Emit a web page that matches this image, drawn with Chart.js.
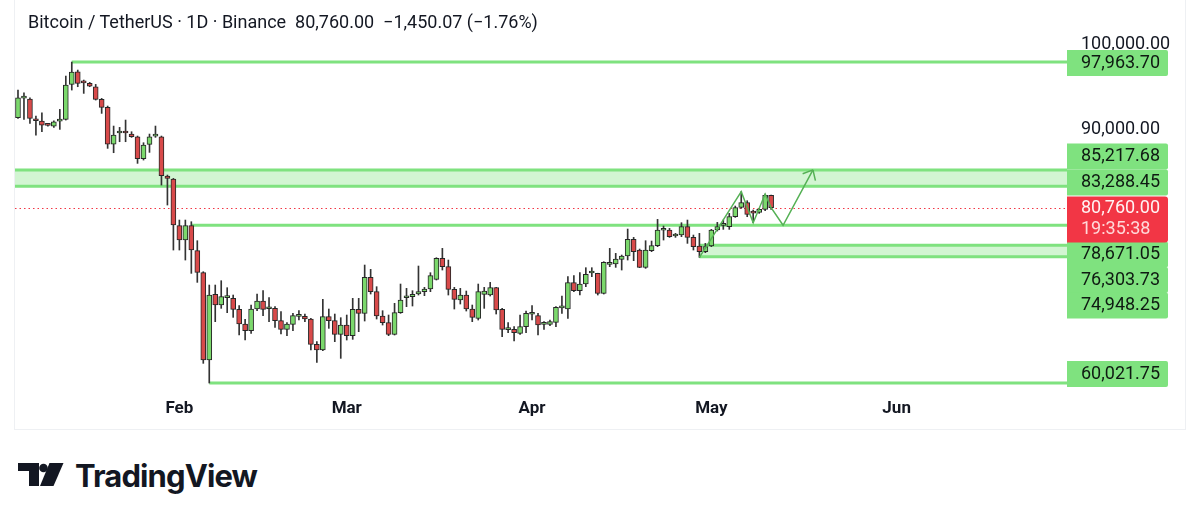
<!DOCTYPE html>
<html>
<head>
<meta charset="utf-8">
<script src="https://cdn.jsdelivr.net/npm/chart.js@4.4.1/dist/chart.umd.min.js"></script>
<style>
  body { margin: 0; background: #fff; width: 1199px; height: 521px; overflow: hidden; position: relative; font-family: Roboto, "Noto Sans", sans-serif; }
  #pane { position: absolute; left: 14px; top: -1px; width: 1172px; height: 431px; border: 1px solid #eef0f3; border-top: none; box-sizing: border-box; }
  #wrap { position: absolute; left: 0; top: 0; width: 1199px; height: 430px; }
  #title { position: absolute; left: 28px; top: 12px; font-size: 18px; line-height: 20px; color: #131722; white-space: pre; }
  #logo { position: absolute; left: 18px; top: 460px; height: 31px; }
  #logo span { position: absolute; left: 57px; top: 0; font-family: Inter, sans-serif; font-weight: 700; font-size: 31px; line-height: 31px; color: #131722; letter-spacing: -0.9px; }
</style>
</head>
<body>
<div id="pane"></div>
<div id="wrap"><canvas id="chart" width="1199" height="430"></canvas></div>
<div id="title">Bitcoin / TetherUS · 1D · Binance  80,760.00  −1,450.07 (−1.76%)</div>
<div id="logo">
  <svg width="50" height="26" viewBox="0 0 50 26" style="position:absolute;left:0;top:3px">
    <path d="M0 0H21V23H11V8H0Z" fill="#131722"/>
    <circle cx="25.5" cy="5" r="4.3" fill="#131722"/>
    <path d="M31.5 0H45.5L35.5 23H22Z" fill="#131722"/>
  </svg>
  <span>TradingView</span>
</div>
<script>
// daily candles, Jan 5 -> May 11
const opens = [91384,93700,93590,91187,90990,90500,90399,90990,91187,95324,
  96821,95560,95442,95048,93551,92605,88271,89580,89640,89453,
  89138,86538,88232,89200,89138,84489,84134,78618,76924,78618,
  75663,73063,62740,70502,69241,70120,70029,68729,66995,66207,
  68768,69714,68800,68847,67389,66365,66956,67900,67901,67586,
  64592,63922,67862,67389,65774,66877,65616,68729,68256,72511,
  70817,67941,67153,65774,68335,70100,70226,70541,70817,71132,
  72275,74757,73772,71093,69832,70423,68768,67665,70502,70423,
  71290,68729,66330,66365,65892,66680,68150,67980,66960,66956,
  67192,68900,68768,71881,70935,71723,73030,72984,70620,74050,
  74087,74639,75033,77003,75742,73693,75663,76254,78080,78106,
  77400,77515,78500,77239,76214,75545,76214,78106,78660,78500,
  79682,80785,81337,80200,80194,80549,82210];
const highs = [94654,94339,93748,91581,91975,90596,91029,92369,96309,97964,
  97018,95836,95560,95324,93669,92763,90399,90241,91108,89729,
  89217,88429,89453,90399,89217,84607,84213,79288,79288,79091,
  76845,73181,71605,71605,72117,71290,70423,69162,67547,69241,
  70541,70935,70108,69044,68453,67153,68256,68571,68177,67665,
  64907,69911,68768,68177,67744,68059,70029,70029,73969,73457,
  71408,68571,68059,69438,71723,71211,70935,73851,71329,73063,
  74836,75939,74560,71329,71211,70896,69241,71723,71329,71920,
  71329,68847,67153,66680,68059,68532,69162,68256,67271,67468,
  69044,70305,72590,72708,73063,73654,73654,73000,74363,75939,
  75348,75151,78224,77239,75860,76845,76806,79367,78579,78303,
  77712,78973,79288,77515,77712,76530,78185,79012,79288,80076,
  80943,82637,81573,80470,80667,82361,82243];
const lows = [91305,91187,90714,89335,89729,90399,90241,90005,91108,94654,
  95048,94260,95048,93472,91896,87759,87247,88547,88547,89059,
  85986,86380,87286,89059,83425,81061,75742,75742,74560,72984,
  71920,62346,60022,67271,68847,68335,67783,65695,65104,65892,
  68571,67980,67271,66601,65813,65616,66207,67468,67271,63922,
  62464,63843,66483,64907,62937,65104,65183,66089,67350,70541,
  67586,66877,65616,65695,68256,69044,69123,70423,70344,70817,
  72196,73378,70423,68768,69359,68532,67271,67468,68847,70305,
  68177,65498,65971,64986,65774,65971,67468,65695,66365,66798,
  66680,68256,67665,70817,70423,71408,72590,70423,70541,73772,
  73693,73378,74560,74481,73654,73575,75545,76136,76924,77239,
  77239,77318,76530,75742,74875,75427,76136,77988,78185,78185,
  79603,80667,79682,78973,80076,80391,80549];
const closes = [93748,93760,91305,91029,90517,90478,90911,91200,95245,96782,
  95442,95500,95127,93551,92605,88271,89335,89640,89580,89138,
  86538,88153,89138,89280,84528,84213,78697,76924,78618,75742,
  73102,62740,70423,69241,70226,70180,68729,66995,66207,68768,
  69714,68729,68880,67389,66365,66995,67980,67960,67586,64592,
  63922,67862,67389,65774,66877,65616,68729,68256,72511,70817,
  67941,67153,65774,68335,69832,70180,70502,70817,71132,72708,
  74757,73772,71093,69911,70423,68768,67783,70817,70896,71290,
  68650,66365,66400,65971,66680,68256,68200,66877,67040,67271,
  68965,68950,71881,70935,71723,72866,73100,70620,74284,74150,
  74678,75033,77003,75545,73693,75742,76254,78106,78130,77318,
  77470,78500,77239,76136,75545,76136,78106,78500,78730,79682,
  80746,81337,79958,80110,80549,82210,80760];

const lastPrice = 80760;
const countdown = '19:35:38';
const monthTicks = ['Feb', 'Mar', 'Apr', 'May', 'Jun'];
const priceTicks = [70000, 80000, 90000, 100000];

// horizontal levels and zones
const lineLevels = [97963.70, 78671.05, 60021.75];
const lineStartDays = [9, 29, 32];
const zoneHighs = [85217.68, 76303.73];
const zoneLows = [83288.45, 74948.25];
const zoneStartDays = [null, 114];

// projected path (day index, price)
const pathDays = [114, 121, 123, 125, 126, 128, 133];
const pathPrices = [74875, 82637, 78973, 82361, 80760, 78671.05, 85217.68];

const monthNames = ['Jan','Feb','Mar','Apr','May','Jun','Jul'];
const dayLabels = [];
for (let i = 0; i < 176; i++) {
  const d = new Date(2026, 0, 5 + i);
  dayLabels.push(monthNames[d.getMonth()] + ' ' + d.getDate());
}

const GREEN = '#7fe27f';
const UP = '#7bd86c';
const DOWN = '#d84a4a';

const candleColors = opens.map((o, i) => closes[i] >= o ? UP : DOWN);
const allTags = [...lineLevels, ...zoneHighs, ...zoneLows];
const fmt = v => v.toLocaleString('en-US', { minimumFractionDigits: 2, maximumFractionDigits: 2 });

const levelsPlugin = {
  id: 'levels',
  beforeDatasetsDraw(chart) {
    const { ctx, chartArea, scales: { x, y } } = chart;
    ctx.save();
    ctx.beginPath();
    ctx.rect(chartArea.left, chartArea.top, chartArea.right - chartArea.left, chartArea.bottom - chartArea.top);
    ctx.clip();
    zoneHighs.forEach((hi, i) => {
      const x0 = zoneStartDays[i] === null ? chartArea.left : x.getPixelForValue(zoneStartDays[i]);
      const y0 = y.getPixelForValue(hi), y1 = y.getPixelForValue(zoneLows[i]);
      ctx.fillStyle = 'rgba(127,226,127,0.35)';
      ctx.fillRect(x0, y0, chartArea.right - x0, y1 - y0);
      ctx.strokeStyle = GREEN;
      ctx.lineWidth = 3;
      ctx.beginPath();
      ctx.moveTo(x0, y0); ctx.lineTo(chartArea.right, y0);
      ctx.moveTo(x0, y1); ctx.lineTo(chartArea.right, y1);
      ctx.stroke();
    });
    lineLevels.forEach((p, i) => {
      const x0 = x.getPixelForValue(lineStartDays[i]);
      const py = y.getPixelForValue(p);
      ctx.strokeStyle = GREEN;
      ctx.lineWidth = 3;
      ctx.beginPath();
      ctx.moveTo(x0, py); ctx.lineTo(chartArea.right, py);
      ctx.stroke();
    });
    const cy = Math.round(y.getPixelForValue(lastPrice)) + 0.5;
    ctx.strokeStyle = '#f23645';
    ctx.lineWidth = 1;
    ctx.setLineDash([1.5, 3]);
    ctx.beginPath();
    ctx.moveTo(chartArea.left, cy); ctx.lineTo(chartArea.right, cy);
    ctx.stroke();
    ctx.restore();
  },
  afterDatasetsDraw(chart) {
    const { ctx } = chart;
    const pts = chart.getDatasetMeta(2).data;
    const a = pts[pts.length - 2], b = pts[pts.length - 1];
    const ang = Math.atan2(a.y - b.y, a.x - b.x);
    ctx.save();
    ctx.strokeStyle = '#55b155';
    ctx.lineWidth = 1.5;
    ctx.beginPath();
    [0.72, -0.72].forEach(d => {
      ctx.moveTo(b.x, b.y);
      ctx.lineTo(b.x + 11 * Math.cos(ang + d), b.y + 11 * Math.sin(ang + d));
    });
    ctx.stroke();
    ctx.restore();
  },
  afterDraw(chart) {
    const { ctx, chartArea, scales: { y } } = chart;
    const left = chartArea.right, w = 101, row = 26;
    const curY = y.getPixelForValue(lastPrice);
    const tags = [];
    let limit = curY;
    allTags.filter(p => p > lastPrice).sort((a, b) => a - b).forEach(p => {
      const py = Math.max(Math.min(y.getPixelForValue(p), limit - row), chartArea.top + 12);
      tags.push({ p, py });
      limit = py;
    });
    limit = curY + 20.5;
    allTags.filter(p => p < lastPrice).sort((a, b) => b - a).forEach(p => {
      const py = Math.min(Math.max(y.getPixelForValue(p), limit + row - 0.5), chartArea.bottom - 14);
      tags.push({ p, py });
      limit = py;
    });
    ctx.save();
    ctx.font = '18px Roboto';
    ctx.textBaseline = 'middle';
    ctx.textAlign = 'left';
    tags.forEach(t => {
      ctx.fillStyle = GREEN;
      ctx.beginPath();
      ctx.roundRect(left, t.py - 12, w, 26, [0, 2, 2, 0]);
      ctx.fill();
    });
    tags.forEach(t => {
      ctx.fillStyle = '#0f1a12';
      ctx.fillText(fmt(t.p), left + 14, t.py + 1);
    });
    ctx.fillStyle = '#f23645';
    ctx.beginPath();
    ctx.roundRect(left, curY - 11, w, 46, [0, 3, 3, 0]);
    ctx.fill();
    ctx.fillStyle = '#fff3f3';
    ctx.fillText(fmt(lastPrice), left + 14, curY + 1);
    ctx.fillStyle = '#ffd9d9';
    ctx.fillText(countdown, left + 14, curY + 21.5);
    ctx.restore();
  }
};

new Chart(document.getElementById('chart'), {
  type: 'bar',
  data: {
    labels: dayLabels,
    datasets: [
      {
        label: 'body',
        data: opens.map((o, i) => [o, closes[i]]),
        backgroundColor: candleColors,
        borderColor: '#262626',
        borderWidth: 1,
        borderSkipped: false,
        barThickness: 5,
        minBarLength: 2,
        grouped: false,
        order: 1
      },
      {
        label: 'wick',
        data: lows.map((l, i) => [l, highs[i]]),
        backgroundColor: '#333',
        barThickness: 1,
        grouped: false,
        order: 2
      },
      {
        type: 'line',
        label: 'path',
        data: pathDays.map((d, i) => ({ x: dayLabels[d], y: pathPrices[i] })),
        borderColor: '#55b155',
        borderWidth: 1.5,
        pointRadius: 0,
        tension: 0,
        order: 0
      }
    ]
  },
  options: {
    responsive: false,
    animation: false,
    layout: { padding: { left: 15, top: 0, right: 0, bottom: 0 } },
    plugins: { legend: { display: false }, tooltip: { enabled: false } },
    scales: {
      x: {
        grid: { display: false, drawTicks: false },
        border: { display: false },
        afterFit(scale) {
          scale.height = 43;
          scale.paddingLeft = 0; scale.paddingRight = 0;
        },
        ticks: {
          autoSkip: false,
          maxRotation: 0,
          padding: 12,
          color: '#131722',
          font: { family: 'Roboto', size: 17, weight: 'bold' },
          callback(val) {
            const [m, d] = this.getLabelForValue(val).split(' ');
            return d === '1' && monthTicks.includes(m) ? m : '';
          }
        }
      },
      y: {
        position: 'right',
        min: 59550,
        max: 105300,
        grid: { display: false, drawTicks: false },
        border: { display: false },
        afterBuildTicks(scale) { scale.ticks = priceTicks.map(v => ({ value: v })); },
        afterFit(scale) {
          scale.width = 132;
          scale.paddingTop = 0; scale.paddingBottom = 0;
        },
        ticks: {
          padding: 14,
          color: '#131722',
          font: { family: 'Roboto', size: 18 },
          callback: v => fmt(v)
        }
      }
    }
  },
  plugins: [levelsPlugin]
});
</script>
</body>
</html>
